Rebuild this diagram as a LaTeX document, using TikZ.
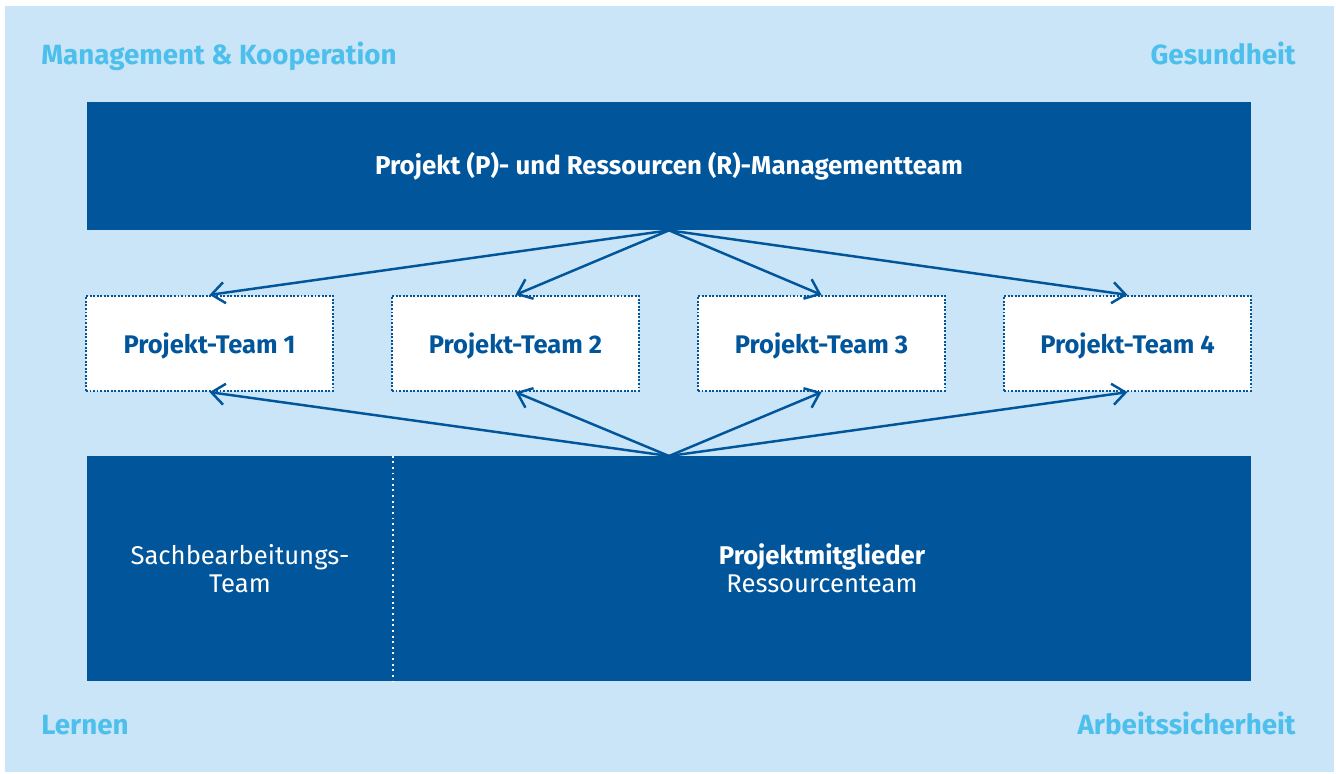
\documentclass[tikz,border=0pt]{standalone}
\usepackage{fontspec}
\setmainfont{Fira Sans}
\usetikzlibrary{arrows.meta,positioning}
\definecolor{dunkelblau}{HTML}{00559B}
\definecolor{hellblau}{HTML}{C9E5F7}
\definecolor{eckblau}{HTML}{4DBFEC}

\begin{document}
\begin{tikzpicture}[x=0.02cm,y=-0.02cm,
  block/.style={fill=dunkelblau,text=white,inner sep=0pt,align=center,
    font=\fontsize{14.6}{15.9}\selectfont},
  team/.style={fill=white,draw=dunkelblau,line width=1.3pt,dash pattern=on 1.1pt off 0.9pt,
    minimum width=4.94cm,minimum height=1.9cm,inner sep=0pt,text=dunkelblau,text depth=0pt,
    font=\fontsize{14.5}{18}\selectfont\bfseries},
  ecke/.style={text=eckblau,font=\fontsize{15.8}{20}\selectfont\bfseries,inner sep=0pt},
  pfeil/.style={draw=dunkelblau,line width=1.4pt,-{Straight Barb[length=7.5pt,width=12pt]}}]
\useasboundingbox (0,0) rectangle (1336,774);
\fill[hellblau] (5,6) rectangle (1334,772);
% corner labels
\node[ecke,anchor=base west] (mk) at (41,64) {Management \& Kooperation};
\node[ecke,anchor=base east] (ge) at (1296,64) {Gesundheit};
\node[ecke,anchor=base west] (le) at (41,734) {Lernen};
\node[ecke,anchor=base east] (as) at (1296,734) {Arbeitssicherheit};
% management team
\node[block,minimum width=23.28cm,minimum height=2.56cm,font=\fontsize{14.7}{18}\selectfont\bfseries]
  (pr) at (669,166) {Projekt (P)- und Ressourcen (R)-Managementteam};
% project teams
\node[team] (t1) at (209.5,343.5) {Projekt-Team 1};
\node[team] (t2) at (515.5,343.5) {Projekt-Team 2};
\node[team] (t3) at (821.5,343.5) {Projekt-Team 3};
\node[team] (t4) at (1127.5,343.5) {Projekt-Team 4};
% resource team
\node[block,minimum width=6.12cm,minimum height=4.5cm] (sb) at (240,568.5)
  {Sachbearbeitungs-\\Team};
\node[block,minimum width=17.16cm,minimum height=4.5cm] (pm) at (822,568.5)
  {\textbf{Projektmitglieder}\\Ressourcenteam};
\coordinate (rt) at (669,456);
\draw[white,line width=1.1pt,dash pattern=on 1.1pt off 2.1pt] (sb.north east) -- (sb.south east);
% arrows
\draw[pfeil] (pr.south) -- (t1.north);
\draw[pfeil] (pr.south) -- (t2.north);
\draw[pfeil] (pr.south) -- (t3.north);
\draw[pfeil] (pr.south) -- (t4.north);
\draw[pfeil] (rt) -- (t1.south);
\draw[pfeil] (rt) -- (t2.south);
\draw[pfeil] (rt) -- (t3.south);
\draw[pfeil] (rt) -- (t4.south);
\end{tikzpicture}
\end{document}
